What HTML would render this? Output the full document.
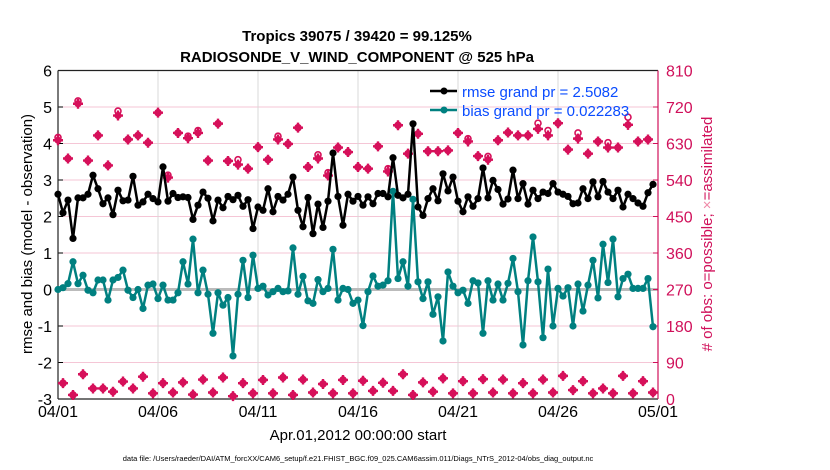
<!DOCTYPE html>
<html><head><meta charset="utf-8"><style>
body{margin:0;background:#fff;}
svg{display:block;font-family:"Liberation Sans",sans-serif;}
</style></head><body>
<svg id="chart" width="830" height="470" viewBox="0 0 830 470" xmlns="http://www.w3.org/2000/svg">
<rect width="830" height="470" fill="#fff"/>
<g id="grid"></g>
<g id="axes"></g>
<g id="series"></g>
<text x="357" y="41" text-anchor="middle" font-size="15" font-weight="bold">Tropics 39075 / 39420 = 99.125%</text>
<text x="357" y="62" text-anchor="middle" font-size="15" font-weight="bold">RADIOSONDE_V_WIND_COMPONENT @ 525 hPa</text>
<text transform="translate(32,234) rotate(-90)" text-anchor="middle" font-size="15">rmse and bias (model - observation)</text>
<text transform="translate(712,234) rotate(-90)" text-anchor="middle" font-size="15" fill="#d0105a"># of obs: o=possible; <tspan fill="#f08aa8">×</tspan>=assimilated</text>
<text x="358" y="440" text-anchor="middle" font-size="15">Apr.01,2012 00:00:00 start</text>
<text x="358" y="461" text-anchor="middle" font-size="7.5">data file: /Users/raeder/DAI/ATM_forcXX/CAM6_setup/f.e21.FHIST_BGC.f09_025.CAM6assim.011/Diags_NTrS_2012-04/obs_diag_output.nc</text>
<g id="legend">
<line x1="430" y1="91" x2="457" y2="91" stroke="#000" stroke-width="2.5"/>
<circle cx="444" cy="91" r="3.5" fill="#000"/>
<text x="462" y="97" font-size="15" fill="#0a4cff">rmse grand pr = 2.5082</text>
<line x1="430" y1="110" x2="457" y2="110" stroke="#008080" stroke-width="2.5"/>
<circle cx="444" cy="110" r="3.5" fill="#008080"/>
<text x="462" y="116" font-size="15" fill="#0a4cff">bias grand pr = 0.022283</text>
</g>
</svg>
<script>
const rmse=[2.61,2.10,2.45,1.40,2.51,2.51,2.61,3.13,2.76,2.35,2.51,2.05,2.72,2.43,2.45,3.10,2.31,2.40,2.61,2.49,2.40,3.36,2.42,2.63,2.52,2.54,2.52,1.92,2.31,2.67,
2.50,1.88,2.45,2.24,2.55,2.46,2.58,2.28,2.46,1.67,2.26,2.17,2.76,2.13,2.55,2.45,2.61,3.08,2.17,1.72,2.52,1.53,2.34,1.70,2.42,3.74,2.55,1.76,2.61,2.42,
2.55,2.31,2.54,2.35,2.63,2.63,2.54,3.61,2.58,2.51,2.61,4.54,2.26,2.03,2.49,2.76,2.43,3.17,2.70,3.08,2.42,2.13,2.54,2.28,2.49,3.33,2.51,2.99,2.74,2.34,
2.48,3.27,2.49,2.90,2.34,2.72,2.49,2.67,2.63,2.90,2.67,2.61,2.55,2.35,2.37,2.76,2.49,2.95,2.54,2.96,2.67,2.49,2.72,2.26,2.61,2.49,2.37,2.28,2.65,2.88];
const bias=[0.00,0.05,0.16,0.76,0.16,0.39,-0.02,-0.09,0.26,0.26,-0.29,0.26,0.33,0.53,-0.02,-0.22,0.00,-0.52,0.12,0.15,-0.25,0.12,-0.29,-0.29,-0.09,0.76,0.15,1.38,-0.09,0.53,
-0.13,-1.20,-0.09,-0.43,-0.22,-1.82,-0.13,0.80,-0.22,0.94,0.03,0.09,-0.15,-0.06,0.03,-0.06,-0.04,1.14,-0.13,0.36,-0.31,-0.38,0.27,-0.06,0.03,1.10,-0.29,0.03,0.00,-0.38,
-0.29,-0.99,-0.06,0.37,0.09,0.12,0.24,2.69,0.30,0.76,0.09,2.47,0.21,-0.25,0.21,-0.68,-0.20,-1.41,0.48,0.09,-0.09,-0.02,-0.38,0.24,0.18,-1.20,0.24,-0.29,0.15,-0.29,
0.17,0.85,-0.06,-1.52,0.24,1.44,0.21,-1.32,0.56,-1.00,0.03,-0.18,0.05,-1.00,0.15,-0.59,0.12,0.80,-0.23,1.24,0.19,1.38,-0.20,0.30,0.42,0.03,0.03,0.03,0.30,-1.02];
const nUsed=[638,39,593,10,728,61,588,26,650,26,576,18,699,43,640,26,650,55,632,14,706,39,546,16,656,41,643,11,656,48,
588,16,679,53,587,7,578,39,568,14,621,47,590,14,640,53,629,10,669,48,572,16,593,37,551,14,620,47,609,14,
572,45,568,20,623,40,561,20,675,61,605,10,654,41,611,18,611,51,613,14,656,44,635,14,599,49,590,16,638,48,
657,14,650,39,650,14,666,48,650,16,680,57,615,22,642,44,605,14,635,26,620,14,620,57,676,14,635,44,640,16];
const nPoss=[645,39,593,10,735,61,588,26,650,26,576,18,710,43,640,26,650,55,632,14,706,39,552,16,656,41,648,11,662,48,
588,16,679,53,587,7,590,39,568,14,621,47,590,14,648,53,629,10,669,48,572,16,602,37,558,14,620,47,609,14,
572,45,568,20,623,40,568,20,675,61,605,10,654,41,611,18,611,51,613,14,656,44,642,14,599,49,598,16,638,48,
657,14,650,39,650,14,680,48,662,16,680,57,615,22,656,44,605,14,635,26,632,14,620,57,695,14,635,44,640,16];
const xTickLabels=["04/01","04/06","04/11","04/16","04/21","04/26","05/01"];
const yTickLabels=["-3","-2","-1","0","1","2","3","4","5","6"];
const y2TickLabels=["0","90","180","270","360","450","540","630","720","810"];

const NS="http://www.w3.org/2000/svg";
const L=58,R=658,T=70.5,B=399;
const xScale=d=>L+(d/30)*(R-L);
const yScale=v=>B-(v+3)/9*(B-T);
const y2Scale=c=>B-c/810*(B-T);
const tOf=i=>i*0.25;
function mk(tag,attrs,parent){const e=document.createElementNS(NS,tag);for(const k in attrs)e.setAttribute(k,attrs[k]);parent.appendChild(e);return e;}
const grid=document.getElementById('grid'),axes=document.getElementById('axes'),ser=document.getElementById('series');
yTickLabels.forEach((lab,k)=>{const y=yScale(+lab);
 if(k>0&&k<9){const g=mk('line',{x1:L,x2:R,y1:y,y2:y,stroke:'#f5c6d6','stroke-width':1},grid);
 
 }
 const t=mk('text',{x:L-6,y:y+6,'text-anchor':'end','font-size':16},axes);t.textContent=lab;
 
 
 mk('line',{x1:L,x2:L+5,y1:y,y2:y,stroke:'#000'},axes);
});
y2TickLabels.forEach(lab=>{const y=y2Scale(+lab);
 const t=mk('text',{x:R+8,y:y+6,'font-size':16,fill:'#d0105a'},axes);t.textContent=lab;
 
 
 mk('line',{x1:R-5,x2:R,y1:y,y2:y,stroke:'#d0105a'},axes);
});
xTickLabels.forEach((lab,k)=>{const x=xScale(k*5);
 if(k>0&&k<6){const g=mk('line',{x1:x,x2:x,y1:T,y2:B,stroke:'#d8d8d8','stroke-width':1},grid);
 
 }
 const t=mk('text',{x:x,y:417,'text-anchor':'middle','font-size':16},axes);t.textContent=lab;
 
 
});
const z=mk('line',{x1:L,x2:R,y1:yScale(0),y2:yScale(0),stroke:'#bbbbbb','stroke-width':3},grid);


mk('line',{x1:L,x2:R,y1:T,y2:T,stroke:'#222','stroke-width':1.2},axes);
mk('line',{x1:L,x2:R,y1:B,y2:B,stroke:'#222','stroke-width':1.2},axes);
mk('line',{x1:L,x2:L,y1:T,y2:B,stroke:'#222','stroke-width':1.2},axes);
mk('line',{x1:R,x2:R,y1:T,y2:B,stroke:'#d0105a','stroke-width':1.2},axes);
const pink='#d6105a';
nPoss.forEach((c,i)=>{const e=mk('circle',{cx:xScale(tOf(i)),cy:y2Scale(c),r:3,fill:'none',stroke:pink,'stroke-width':1.6},ser);
 
 });
nUsed.forEach((c,i)=>{const x=xScale(tOf(i)),y=y2Scale(c);
 const e=mk('path',{d:`M${x-5} ${y}L${x+5} ${y}M${x} ${y-5}L${x} ${y+5}`,stroke:pink,'stroke-width':2.4,fill:'none'},ser);
 
 
 const d=mk('circle',{cx:x,cy:y,r:3.6,fill:pink},ser);
 
 });
function series(vals,color,name){
 const p=mk('polyline',{points:vals.map((v,i)=>xScale(tOf(i))+','+yScale(v)).join(' '),fill:'none',stroke:color,'stroke-width':2.5,'stroke-linejoin':'round'},ser);
 
 
 vals.forEach((v,i)=>{const c=mk('circle',{cx:xScale(tOf(i)),cy:yScale(v),r:3.6,fill:color},ser);
 
 });
}
series(bias,'#008080','bias');
series(rmse,'#000','rmse');
ser.parentNode.appendChild(document.getElementById('legend'));
</script>
</body></html>
